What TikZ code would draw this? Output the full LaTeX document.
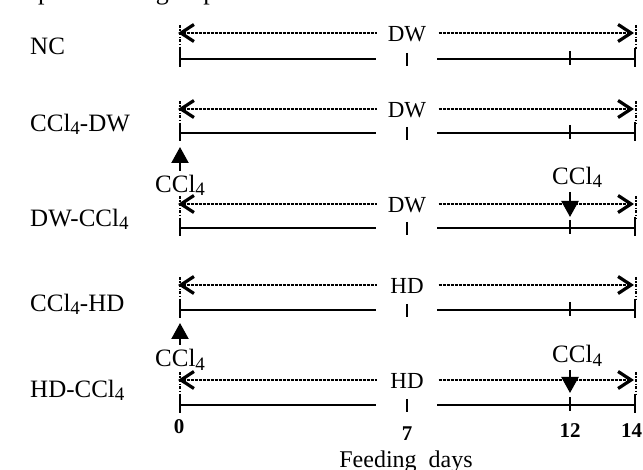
\documentclass[tikz,border=0pt]{standalone}
\usepackage{fontspec}
\setmainfont{Liberation Serif}
\usetikzlibrary{arrows.meta,calc}

% CCl4 with a lowered, smaller 4
\newcommand\cclfour{CCl\raisebox{-3pt}{\fontsize{19}{19}\selectfont 4}}

\begin{document}
\begin{tikzpicture}[x=1pt,y=-1pt,
  lab/.style={anchor=base west,inner sep=0pt,font=\fontsize{25}{29}\selectfont},
  numlab/.style={anchor=base,inner sep=0pt,font=\fontsize{21}{25}\selectfont\bfseries},
  feedlab/.style={fill=white,inner xsep=0pt,inner ysep=1pt,minimum width=61pt,
    font=\fontsize{23}{27}\selectfont},
  barb/.tip={Straight Barb[length=13pt,width=17pt,line width=3.2pt]},
  feedline/.style={line width=2.6pt,dash pattern=on 3pt off 1pt,barb-barb},
  daysline/.style={line width=2.2pt},
  guide/.style={line width=2.2pt,dash pattern=on 3pt off 1.5pt on 1.2pt off 1.5pt},
  inject/.style={line width=2.2pt,-{Triangle[length=16pt,width=17pt]}},
]
\path[use as bounding box] (0,0) rectangle (643,470);

% heading, cut by the top edge
\begin{scope}
  \clip (0,0) rectangle (643,470);
  \node[anchor=base west,inner sep=0pt,font=\fontsize{26}{30}\selectfont] (head) at (9,0) {Experimental groups};
\end{scope}

% one row per group: dotted treatment span, solid day axis
\foreach \d/\s/\lbl/\lb/\feed/\n in {
  33/59/NC/55/DW/nc,
  109/133/{\cclfour-DW}/132/DW/cd,
  204/228/{DW-\cclfour}/227/DW/dc,
  285/310/{\cclfour-HD}/312/HD/ch,
  380/405/{HD-\cclfour}/398/HD/hc}{
  \node[lab] (\n-l) at (30,\lb) {\lbl};
  \coordinate (\n-a) at (178,\d);
  \coordinate (\n-b) at (634,\d);
  \draw[feedline] (\n-a) -- (\n-b);
  \node[feedlab] (\n-f) at (407,\d+1) {\feed};
  \draw[guide] (180,\d-8) -- (180,\s-9);
  \draw[guide] (636,\d-8) -- (636,\s-10);
  \coordinate (\n-0) at (180,\s);
  \coordinate (\n-g1) at (376,\s);
  \coordinate (\n-7) at (407,\s);
  \coordinate (\n-g2) at (437,\s);
  \coordinate (\n-12) at (570,\s);
  \coordinate (\n-14) at (635,\s);
  \draw[daysline] (\n-0) -- (\n-g1);
  \draw[daysline] (\n-g2) -- (\n-14);
  \draw[daysline] ([yshift=9pt]\n-0) -- ([yshift=-8pt]\n-0);
  \draw[daysline] ([yshift=6pt]\n-7) -- ([yshift=-7pt]\n-7);
  \draw[daysline] ([yshift=8pt]\n-12) -- ([yshift=-6pt]\n-12);
  \draw[daysline] ([yshift=11pt]\n-14) -- ([yshift=-8pt]\n-14);
}

% CCl4 injections
\coordinate (up1s) at (180,171); \coordinate (up1t) at (180,147);
\draw[inject] (up1s) -- (up1t);
\node[lab] (up1l) at (155,193) {\cclfour};
\coordinate (up2s) at (180,345); \coordinate (up2t) at (180,323);
\draw[inject] (up2s) -- (up2t);
\node[lab] (up2l) at (155,367) {\cclfour};
\coordinate (dn1s) at (570,192); \coordinate (dn1t) at (570,217);
\draw[inject] (dn1s) -- (dn1t);
\node[lab] (dn1l) at (552,185) {\cclfour};
\coordinate (dn2s) at (570,370); \coordinate (dn2t) at (570,393);
\draw[inject] (dn2s) -- (dn2t);
\node[lab] (dn2l) at (552,363) {\cclfour};

% day numbers and axis title
\node[numlab] (d0) at (179,434) {0};
\node[numlab] (d7) at (407,440) {7};
\node[numlab] (d12) at (570,437) {12};
\node[numlab,anchor=base west] (d14) at (621,437) {14};
\node[anchor=base,inner sep=0pt,font=\fontsize{24}{28}\selectfont] (title) at (406,467) {Feeding\hspace{12pt}days};
\end{tikzpicture}
\end{document}
